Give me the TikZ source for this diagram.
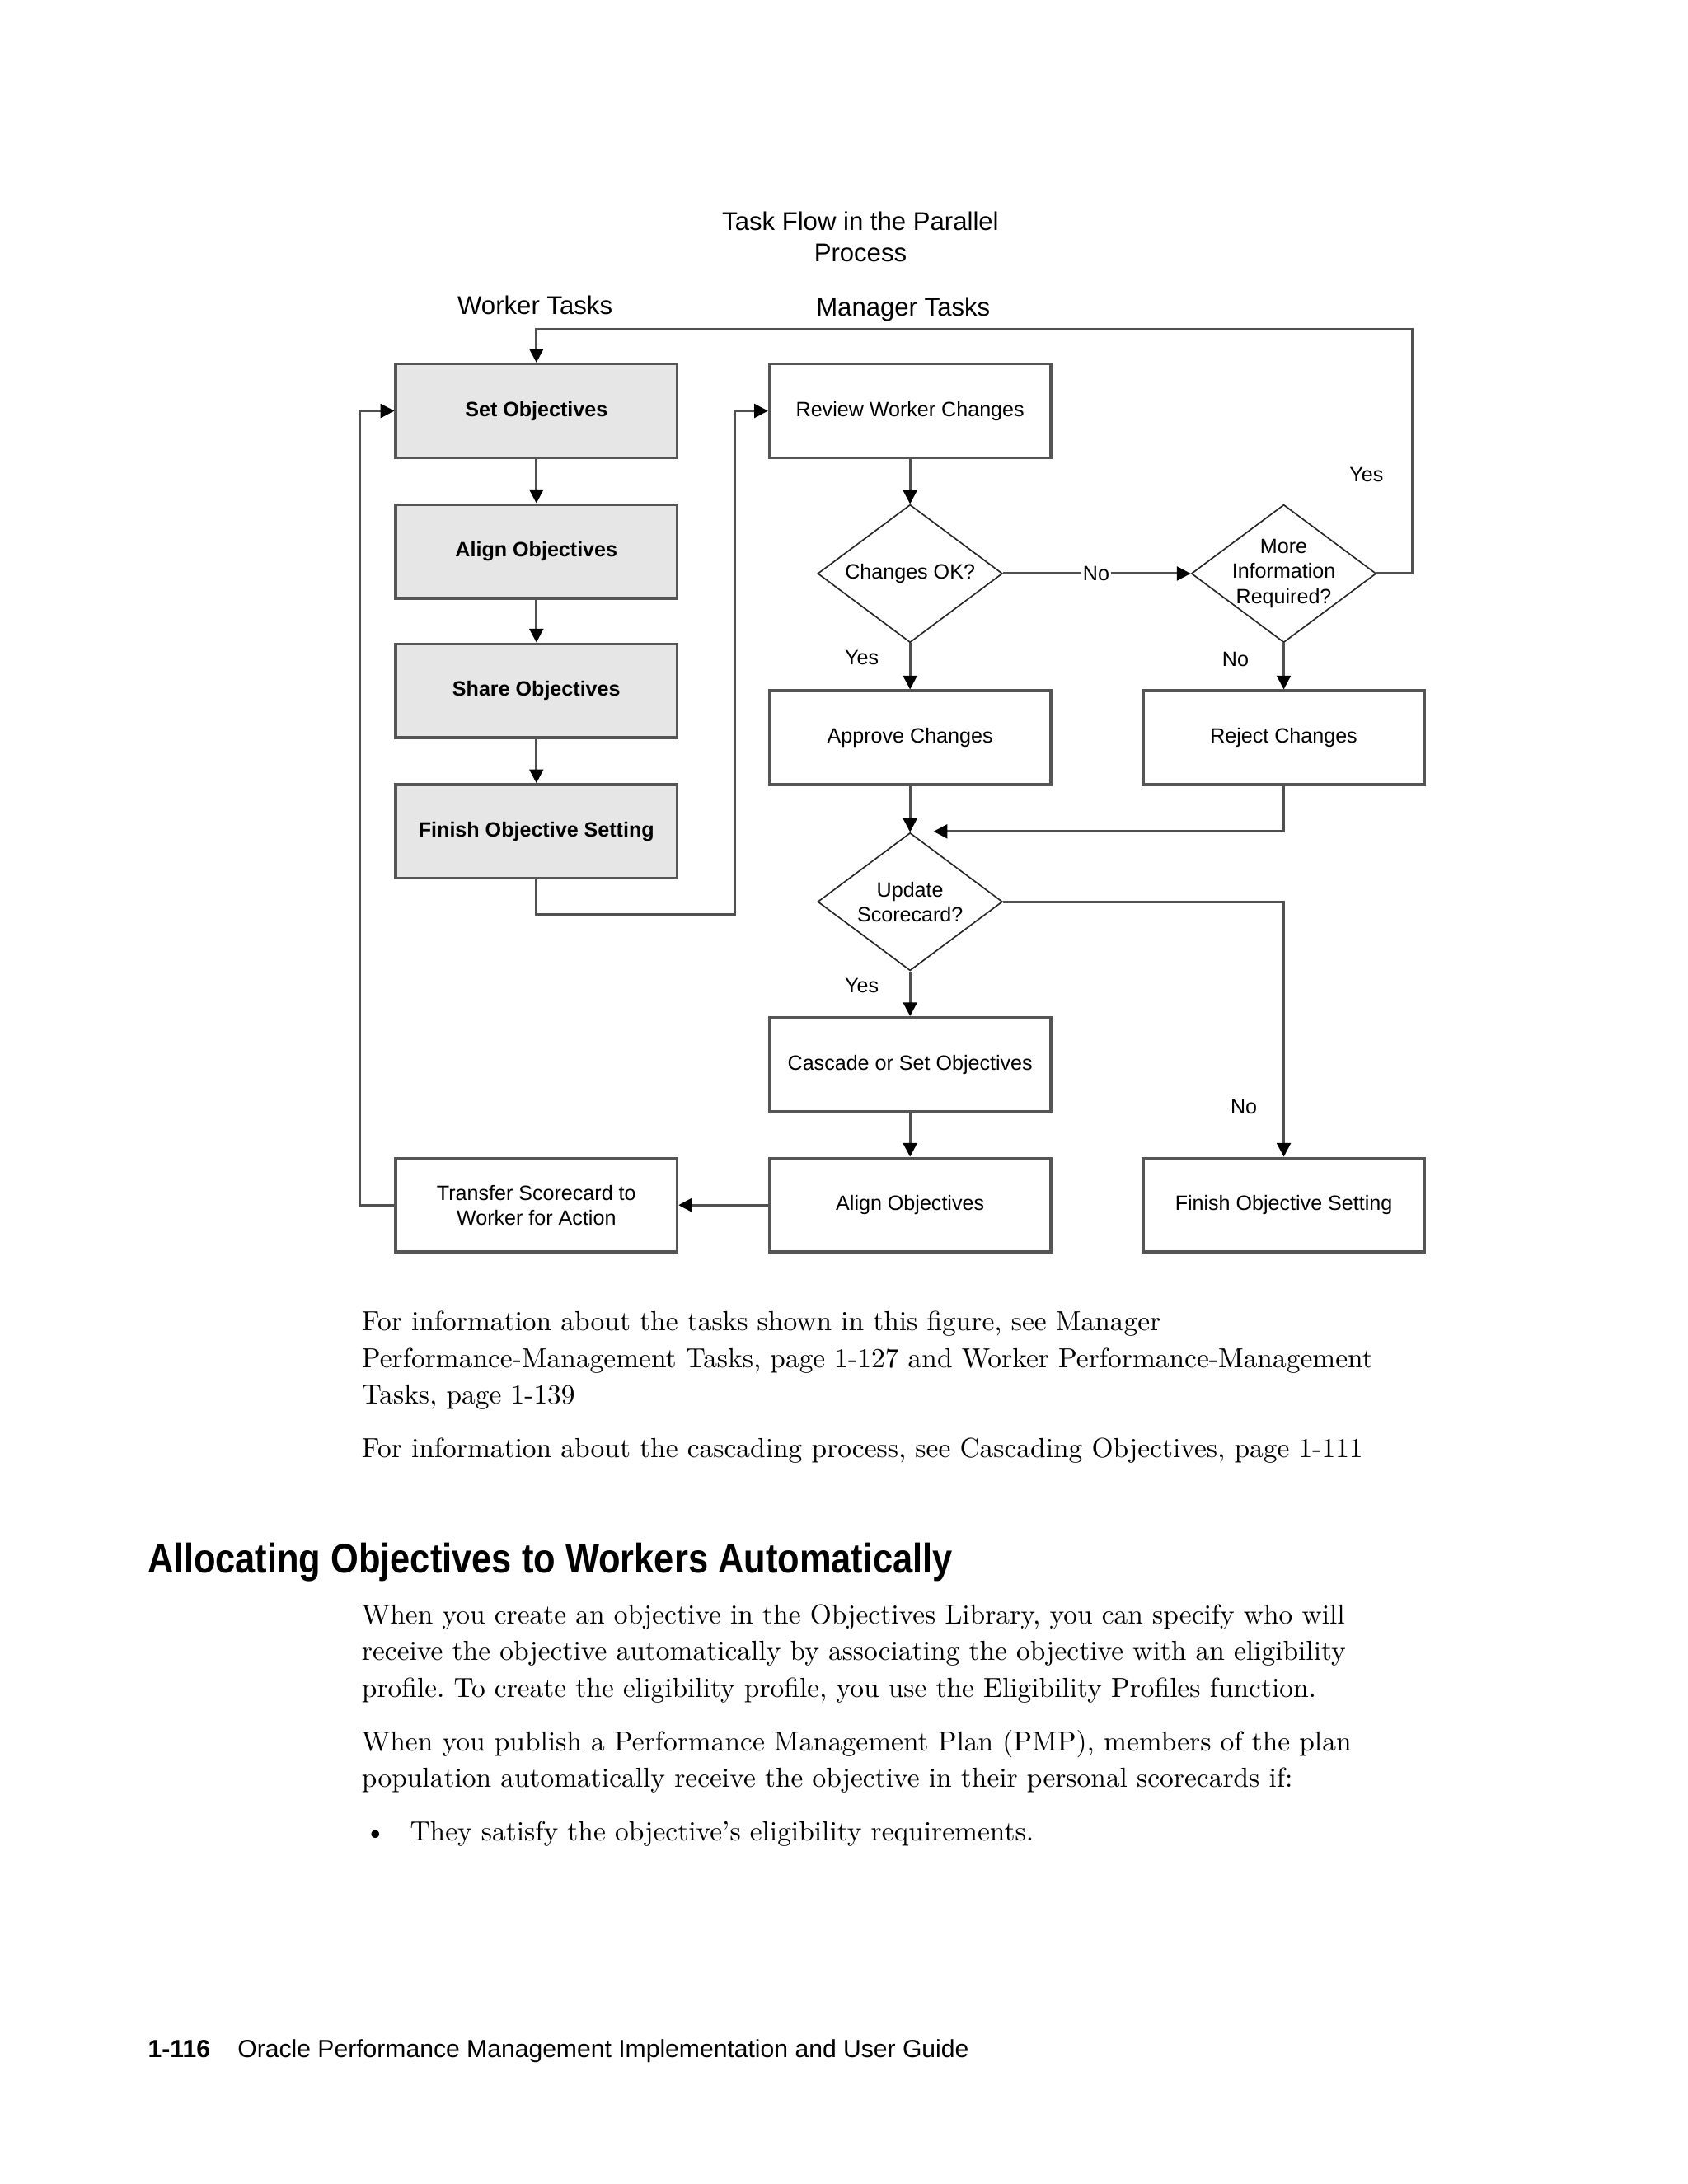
\documentclass[tikz,border=0pt]{standalone}
\usepackage{fontspec}
\setsansfont{Liberation Sans}
\usetikzlibrary{arrows.meta,shapes.geometric}
\definecolor{boxgray}{HTML}{E6E6E6}
\definecolor{boxline}{HTML}{555555}
\definecolor{linegray}{HTML}{505050}
\frenchspacing
\tikzset{
  dfont/.style={font=\sffamily\fontsize{7.5}{9}\selectfont},
  wbox/.style={draw=boxline, line width=1pt, fill=boxgray, minimum width=102pt, minimum height=34pt, inner sep=0pt, align=center, font=\sffamily\bfseries\fontsize{7.5}{9}\selectfont},
  mbox/.style={draw=boxline, line width=1pt, minimum width=102pt, minimum height=34pt, inner sep=0pt, align=center, dfont},
  decis/.style={diamond, draw=black!85, line width=0.5pt, minimum width=67pt, minimum height=50pt, inner sep=0pt},
  dtext/.style={align=center, dfont, inner sep=0pt},
  lab/.style={dfont, inner sep=1pt},
  conn/.style={draw=linegray, line width=0.9pt},
  arr/.style={conn, -{Triangle[length=5pt,width=5pt,color=black]}},
  hdr/.style={font=\sffamily\fontsize{9.3}{11}\selectfont, inner sep=0pt, anchor=base},
  body/.style={font=\fontsize{10}{13}\selectfont, inner sep=0pt, anchor=base west},
}
\begin{document}
\begin{tikzpicture}[x=0.5pt,y=-0.5pt]
\useasboundingbox (0,0) rectangle (1224,1584);
\fill[white] (0,0) rectangle (1224,1584);

% headers
\node[hdr] (t1) at (624,167) {Task Flow in the Parallel};
\node[hdr] (t2) at (624,190) {Process};
\node[hdr] (wt) at (388,228) {Worker Tasks};
\node[hdr] (mt) at (655,229) {Manager Tasks};

% worker column
\node[wbox] (so) at (389,298) {Set Objectives};
\node[wbox] (ao) at (389,400) {Align Objectives};
\node[wbox] (sh) at (389,501) {Share Objectives};
\node[wbox] (fo) at (389,603) {Finish Objective Setting};
\node[mbox] (tr) at (389,874) {Transfer Scorecard to\\Worker for Action};

% manager column
\node[mbox] (rw) at (660,298) {Review Worker Changes};
\node[decis] (ok) at (660,416) {};
\node[dtext] (okt) at (660,416) {Changes OK?};
\node[mbox] (ap) at (660,535) {Approve Changes};
\node[decis] (us) at (660,654) {};
\node[dtext] (ust) at (660,654) {Update\\Scorecard?};
\node[mbox] (cs) at (660,772) {Cascade or Set Objectives};
\node[mbox] (am) at (660,874) {Align Objectives};

% right column
\node[decis] (mi) at (931,416) {};
\node[dtext] (mit) at (931,416) {More\\Information\\Required?};
\node[mbox] (rj) at (931,535) {Reject Changes};
\node[mbox] (fm) at (931,874) {Finish Objective Setting};

\coordinate (mrg) at (677,603);

% connectors
\draw[arr] (mi.east) -- ++(26,0) -- ++(0,-177) -| (so.north);
\draw[arr] (so.south) -- (ao.north);
\draw[arr] (ao.south) -- (sh.north);
\draw[arr] (sh.south) -- (fo.north);
\draw[arr] (fo.south) -- ++(0,25) -- ++(144,0) |- (rw.west);
\draw[arr] (rw.south) -- (ok.north);
\draw[arr] (ok.east) -- (mi.west);
\draw[arr] (ok.south) -- (ap.north);
\draw[arr] (mi.south) -- (rj.north);
\draw[arr] (ap.south) -- (us.north);
\draw[arr] (rj.south) |- (mrg);
\draw[arr] (us.east) -| (fm.north);
\draw[arr] (us.south) -- (cs.north);
\draw[arr] (cs.south) -- (am.north);
\draw[arr] (am.west) -- (tr.east);
\draw[arr] (tr.west) -- ++(-25,0) |- (so.west);

% labels
\node[lab] (l1) at (991,344) {Yes};
\node[lab, fill=white, inner sep=0.5pt] (l2) at (795,416) {No};
\node[lab] (l3) at (625,477) {Yes};
\node[lab] (l4) at (896,478) {No};
\node[lab] (l5) at (625,715) {Yes};
\node[lab] (l6) at (902,803) {No};

% body text
\node[body] (p1a) at (262,965) {For information about the tasks shown in this figure, see Manager};
\node[body] (p1b) at (262,992) {Performance-Management Tasks, page 1-127 and Worker Performance-Management};
\node[body] (p1c) at (262,1018) {Tasks, page 1-139};
\node[body] (p2) at (262,1057) {For information about the cascading process, see Cascading Objectives, page 1-111};

\node[inner sep=0pt, anchor=base west, font=\sffamily\bfseries\fontsize{15}{18}\selectfont, xscale=0.865] (hd) at (107,1141) {Allocating Objectives to Workers Automatically};

\node[body] (p3a) at (262,1178) {When you create an objective in the Objectives Library, you can specify who will};
\node[body] (p3b) at (262,1204) {receive the objective automatically by associating the objective with an eligibility};
\node[body] (p3c) at (262,1231) {profile. To create the eligibility profile, you use the Eligibility Profiles function.};
\node[body] (p4a) at (262,1270) {When you publish a Performance Management Plan (PMP), members of the plan};
\node[body] (p4b) at (262,1296) {population automatically receive the objective in their personal scorecards if:};
\node[body] (bul) at (264,1335) {\textbullet};
\node[body] (p5) at (297,1335) {They satisfy the objective's eligibility requirements.};

\node[inner sep=0pt, anchor=base west, font=\sffamily\bfseries\fontsize{9}{11}\selectfont] (pg) at (107,1492) {1-116};
\node[inner sep=0pt, anchor=base west, font=\sffamily\fontsize{9}{11}\selectfont] (ft) at (172,1492) {Oracle Performance Management Implementation and User Guide};
\end{tikzpicture}
\end{document}
